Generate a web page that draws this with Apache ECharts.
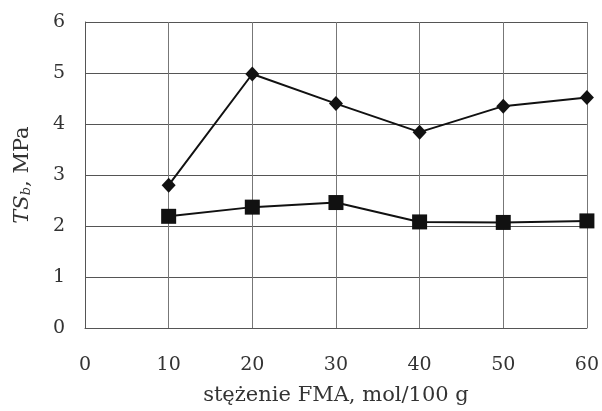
<!DOCTYPE html>
<html>
<head>
<meta charset="utf-8">
<script src="https://cdn.jsdelivr.net/npm/echarts@6/dist/echarts.min.js"></script>
<style>
  html, body { margin: 0; padding: 0; background: #fff; }
  #chart { width: 602px; height: 411px; }
</style>
</head>
<body>
<div id="chart"></div>
<script>
// stezenie FMA (mol/100 g)
const fmaContent = [10, 20, 30, 40, 50, 60]
// upper series (diamonds)
const tsDiamond = [2.8, 4.98, 4.4, 3.84, 4.35, 4.52]
// lower series (squares)
const tsSquare = [2.19, 2.37, 2.46, 2.08, 2.07, 2.1]

const fontFamily = '"DejaVu Serif", "Liberation Serif", serif'
const textColor = '#333'
const gridColor = '#555'

const chart = echarts.init(document.getElementById('chart'))

chart.setOption({
  animation: false,
  grid: {
    left: 85,
    right: 13,
    top: 22,
    bottom: 82
  },
  xAxis: {
    type: 'value',
    min: 0,
    max: 60,
    interval: 10,
    name: 'stężenie FMA, mol/100 g',
    nameLocation: 'middle',
    nameGap: 57,
    nameTextStyle: { fontFamily, fontSize: 21, color: textColor },
    axisLine: { show: true, lineStyle: { color: gridColor, width: 1 } },
    axisTick: { show: false },
    axisLabel: { fontFamily, fontSize: 19, color: textColor, margin: 28 },
    splitLine: { show: true, lineStyle: { color: '#777', width: 1 } }
  },
  yAxis: {
    type: 'value',
    min: 0,
    max: 6,
    interval: 1,
    name: '{it|TS}{sub|b}{n|, MPa}',
    nameLocation: 'middle',
    nameGap: 52,
    nameTextStyle: {
      rich: {
        it: { fontFamily, fontSize: 21, fontStyle: 'italic', color: textColor },
        sub: { fontFamily, fontSize: 13, fontStyle: 'italic', color: textColor, padding: [8, 0, 0, 0] },
        n: { fontFamily, fontSize: 21, color: textColor }
      }
    },
    axisLine: { show: true, lineStyle: { color: gridColor, width: 1 } },
    axisTick: { show: false },
    axisLabel: { fontFamily, fontSize: 19, color: textColor, margin: 20 },
    splitLine: { show: true, lineStyle: { color: gridColor, width: 1 } }
  },
  series: [{
    name: 'diamond',
    type: 'line',
    data: fmaContent.map((x, i) => [x, tsDiamond[i]]),
    symbol: 'diamond',
    symbolSize: [14, 15],
    lineStyle: { color: '#111', width: 2 },
    itemStyle: { color: '#111' }
  }, {
    name: 'square',
    type: 'line',
    data: fmaContent.map((x, i) => [x, tsSquare[i]]),
    symbol: 'rect',
    symbolSize: 15,
    lineStyle: { color: '#111', width: 2 },
    itemStyle: { color: '#111' }
  }]
})
</script>
</body>
</html>
